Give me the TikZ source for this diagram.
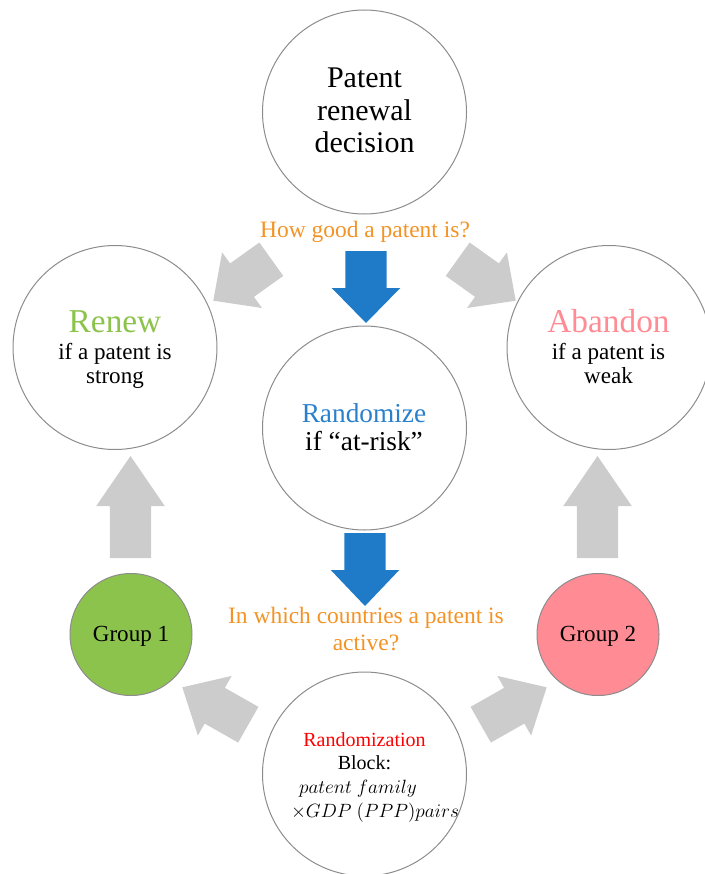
\documentclass[tikz,border=0pt]{standalone}
\usepackage{fontspec}
\setmainfont{Liberation Serif}
\usetikzlibrary{calc}
\definecolor{arrgray}{HTML}{CCCCCC}
\definecolor{arrblue}{HTML}{1F7BC8}
\definecolor{txtblue}{HTML}{2A80CC}
\definecolor{qorange}{HTML}{F39325}
\definecolor{rgreen}{HTML}{8CC34C}
\definecolor{apink}{HTML}{FF8B95}
\definecolor{ringgray}{HTML}{8C8C8C}
\newcommand\fsz[1]{\fontsize{#1}{#1}\selectfont}
\newcommand\sw{15.4pt}
\newcommand\hw{25.7pt}
% #1 fill colour, #2 tail coordinate, #3 tip coordinate, #4 head length
\newcommand\blockarrow[4]{%
  \coordinate (hb) at ($(#3)!#4!(#2)$);
  \fill[#1] ($(#2)!\sw!90:(#3)$) -- ($(hb)!\sw!90:(#3)$) -- ($(hb)!\hw!90:(#3)$)
    -- (#3) -- ($(hb)!\hw!-90:(#3)$) -- ($(hb)!\sw!-90:(#3)$) -- ($(#2)!\sw!-90:(#3)$) -- cycle;}
\tikzset{
  ring/.style={circle, draw=ringgray, line width=0.75pt, inner sep=0pt, minimum size=#1},
  txt/.style={anchor=base, inner sep=0pt, text=black},
}
\begin{document}
\begin{tikzpicture}[x=0.75pt,y=-0.75pt]
\useasboundingbox (0,0) rectangle (705,874);
\clip (0,0) rectangle (705,874);
% circles
\node[ring=153pt] (top) at (364.5,112) {};
\node[ring=153pt] (renew) at (115,347.5) {};
\node[ring=153pt] (aband) at (609,347.5) {};
\node[ring=153pt] (rand) at (364.5,428) {};
\node[ring=153pt] (block) at (364.5,774) {};
\node[ring=91.5pt, fill=rgreen] (g1) at (131,634.5) {};
\node[ring=91.5pt, fill=apink] (g2) at (598,634.5) {};
% arrow end points
\coordinate (b1t) at (366,251);   \coordinate (b1h) at (366,323);
\coordinate (b2t) at (365,533);   \coordinate (b2h) at (365,606);
\coordinate (tlt) at (271.3,259.2); \coordinate (tlh) at (213.3,300.7);
\coordinate (trt) at (457.7,259.2); \coordinate (trh) at (515.7,300.7);
\coordinate (blt) at (248.3,724.7); \coordinate (blh) at (182.3,687.3);
\coordinate (brt) at (480.7,724.7); \coordinate (brh) at (546.7,687.3);
\coordinate (ult) at (130.5,558);   \coordinate (ulh) at (130.5,456);
\coordinate (urt) at (597.5,558);   \coordinate (urh) at (597.5,456);
% arrows
\blockarrow{arrblue}{b1t}{b1h}{26.25pt}
\blockarrow{arrblue}{b2t}{b2h}{27pt}
\blockarrow{arrgray}{tlt}{tlh}{26.5pt}
\blockarrow{arrgray}{trt}{trh}{26.5pt}
\blockarrow{arrgray}{blt}{blh}{28pt}
\blockarrow{arrgray}{brt}{brh}{28pt}
\blockarrow{arrgray}{ult}{ulh}{37.5pt}
\blockarrow{arrgray}{urt}{urh}{37.5pt}
% texts: top circle
\node[txt, font=\fsz{22.5pt}] (t1) at (364.5,88) {Patent};
\node[txt, font=\fsz{22.5pt}] (t2) at (364.5,120) {renewal};
\node[txt, font=\fsz{22.5pt}] (t3) at (364.5,152) {decision};
\node[txt, font=\fsz{17.6pt}, text=qorange] (q1) at (365,237) {How good a patent is?};
% renew
\node[txt, font=\fsz{25pt}, text=rgreen] (r1) at (115,332) {Renew};
\node[txt, font=\fsz{17.3pt}] (r2) at (115,359) {if a patent is};
\node[txt, font=\fsz{17.3pt}] (r3) at (115,383.5) {strong};
% abandon
\node[txt, font=\fsz{25pt}, text=apink] (a1) at (608.5,332) {Abandon};
\node[txt, font=\fsz{17.3pt}] (a2) at (608.5,359) {if a patent is};
\node[txt, font=\fsz{17.3pt}] (a3) at (608.5,383.5) {weak};
% randomize
\node[txt, font=\fsz{20.5pt}, text=txtblue] (m1) at (364,422) {Randomize};
\node[txt, font=\fsz{20.5pt}] (m2) at (364,450) {if “at-risk”};
% countries question
\node[txt, font=\fsz{17.6pt}, text=qorange] (q2) at (366,623) {In which countries a patent is};
\node[txt, font=\fsz{17.6pt}, text=qorange] (q3) at (366,650) {active?};
% groups
\node[txt, font=\fsz{17.3pt}] (g1t) at (131,641) {Group 1};
\node[txt, font=\fsz{17.3pt}] (g2t) at (598,641) {Group 2};
% block circle
\node[txt, font=\fsz{15pt}, text=red] (k1) at (364.5,746) {Randomization};
\node[txt, font=\fsz{15pt}] (k2) at (364.5,769) {Block:};
\node[txt, font=\fsz{15pt}] (k3) at (358,793) {$patent\ family$};
\node[txt, font=\fsz{15pt}] (k4) at (375,817) {$\times GDP\ (PPP) pairs$};
\end{tikzpicture}
\end{document}
